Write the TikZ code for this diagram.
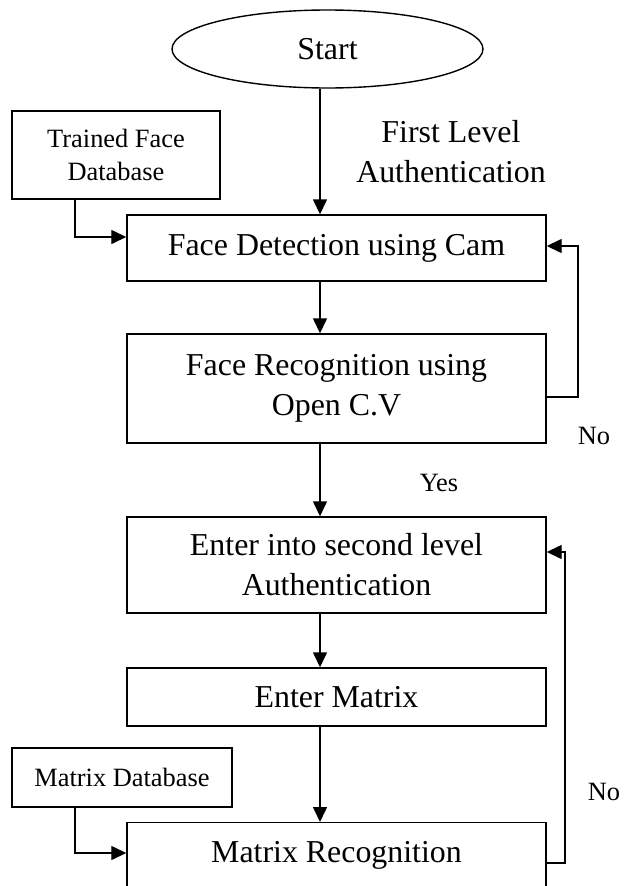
\documentclass[tikz,border=0pt]{standalone}
\usepackage{fontspec}
\setmainfont{Liberation Serif}
\usetikzlibrary{arrows.meta,shapes.geometric}
\newcommand\bigtxt{\fontsize{32}{40}\selectfont}
\newcommand\smalltxt{\fontsize{26.5}{34}\selectfont}
\tikzset{
  line/.style={line width=1.4bp, draw=black},
  arr/.style={line, -{Triangle[length=15bp,width=14bp]}},
  box/.style={line, rectangle, inner sep=0pt, align=center},
  mainbox/.style={box, minimum width=419bp, font=\bigtxt},
  dbbox/.style={box, font=\smalltxt},
  lbl/.style={inner sep=0pt, align=center}
}
\begin{document}
\begin{tikzpicture}[x=1bp, y=-1bp]
  \useasboundingbox (0,0) rectangle (626,886);
  \clip (0,0) rectangle (626,886);
  \fill[white] (0,0) rectangle (626,886);

  % process steps
  \node[line, ellipse, minimum width=311bp, minimum height=78bp, inner sep=0pt, font=\bigtxt] (start) at (327.5,49) {Start};
  \node[dbbox, minimum width=208bp, minimum height=88bp] (tfd) at (116,155) {Trained Face\\Database};
  \node[mainbox, minimum height=66bp] (fd) at (336.5,248) {Face Detection using Cam};
  \node[mainbox, minimum height=109bp] (fr) at (336.5,388.5) {Face Recognition using\\Open C.V};
  \node[mainbox, minimum height=96bp] (e2) at (336.5,565) {Enter into second level\\Authentication};
  \node[mainbox, minimum height=58bp] (em) at (336.5,697) {Enter Matrix};
  \node[dbbox, minimum width=220bp, minimum height=59bp] (mdb) at (122,777.5) {Matrix Database};
  \node[mainbox, minimum height=90bp, anchor=north] (mr) at (336.5,822) {};
  \node[lbl, font=\bigtxt, anchor=base] (mrtext) at (336.5,862) {Matrix Recognition};

  % labels
  \node[lbl, font=\bigtxt] (first) at (451,152) {First Level\\Authentication};
  \node[lbl, font=\smalltxt] (no1) at (594,436) {No};
  \node[lbl, font=\smalltxt] (yes) at (439,483) {Yes};
  \node[lbl, font=\smalltxt] (no2) at (604,792) {No};

  % routing points
  \coordinate (ax) at (320,0);
  \coordinate (tin) at (75,237);
  \coordinate (min) at (75,853);
  \coordinate (l1) at (578,397);
  \coordinate (l1t) at (578,246);
  \coordinate (l2) at (565,863);
  \coordinate (l2t) at (565,552);

  % main flow
  \draw[arr] (start.south -| ax) -- (fd.north -| ax);
  \draw[arr] (fd.south -| ax) -- (fr.north -| ax);
  \draw[arr] (fr.south -| ax) -- (e2.north -| ax);
  \draw[arr] (e2.south -| ax) -- (em.north -| ax);
  \draw[arr] (em.south -| ax) -- (mr.north -| ax);

  % database inputs
  \draw[arr] (tfd.south -| tin) |- (fd.west |- tin);
  \draw[arr] (mdb.south -| min) |- (mr.west |- min);

  % retry loops
  \draw[arr] (fr.east |- l1) -| (l1t) -- (fd.east |- l1t);
  \draw[arr] (mr.east |- l2) -| (l2t) -- (e2.east |- l2t);
\end{tikzpicture}
\end{document}
